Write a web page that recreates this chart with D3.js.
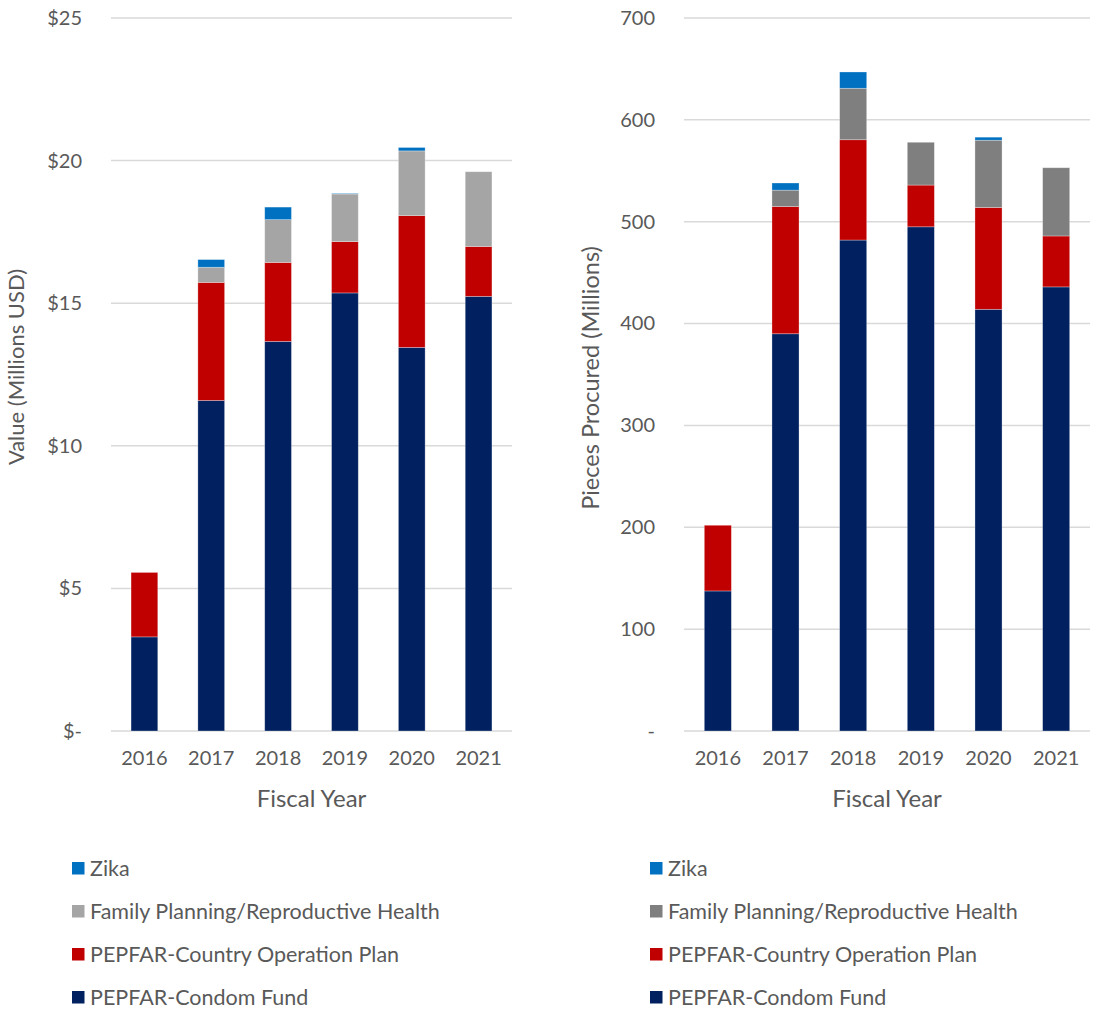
<!DOCTYPE html>
<html>
<head>
<meta charset="utf-8">
<script src="https://cdn.jsdelivr.net/npm/d3@7"></script>
<style>
  body { margin: 0; background: #fff; }
  svg text { font-family: Lato, "Open Sans", sans-serif; fill: #595959; }
</style>
</head>
<body>
<div id="chart"></div>
<script>
// categories
const years = ["2016", "2017", "2018", "2019", "2020", "2021"];
const seriesNames = ["PEPFAR-Condom Fund", "PEPFAR-Country Operation Plan",
  "Family Planning/Reproductive Health", "Zika"];

// left chart: value (millions USD)
const valueCondomFund = [3.30, 11.59, 13.66, 15.36, 13.45, 15.24];
const valueCOP        = [2.26, 4.14, 2.77, 1.80, 4.62, 1.75];
const valueFPRH       = [0, 0.53, 1.50, 1.67, 2.27, 2.62];
const valueZika       = [0, 0.27, 0.44, 0.02, 0.12, 0];
const valueTicks = [0, 5, 10, 15, 20, 25];

// right chart: pieces procured (millions)
const piecesCondomFund = [137.5, 390, 482, 495, 414, 436];
const piecesCOP        = [64.5, 125, 98.5, 41, 100, 50];
const piecesFPRH       = [0, 16, 50.5, 42, 66, 67];
const piecesZika       = [0, 7, 16, 0, 3, 0];
const piecesTicks = [0, 100, 200, 300, 400, 500, 600, 700];

const width = 1094, height = 1011;
const svg = d3.select("#chart").append("svg")
    .attr("width", width)
    .attr("height", height);

function buildRows(series) {
  return years.map((y, i) => {
    let row = { year: y };
    seriesNames.forEach((s, j) => row[s] = series[j][i]);
    return row;
  });
}

function drawChart(opts) {
  let g = svg.append("g");
  let rows = buildRows(opts.series);

  let x = d3.scaleBand()
      .domain(years)
      .range([opts.left, opts.right])
      .paddingInner(0.6)
      .paddingOuter(0.3);

  let y = d3.scaleLinear()
      .domain([0, opts.max])
      .range([731, 18]);

  // gridlines
  g.selectAll("line.grid").data(opts.ticks).enter()
      .append("line")
      .attr("class", "grid")
      .attr("x1", opts.left)
      .attr("x2", opts.right)
      .attr("y1", d => y(d))
      .attr("y2", d => y(d))
      .attr("stroke", "#d9d9d9")
      .attr("stroke-width", 1.5);

  // y axis labels
  let yAxis = g.append("g")
      .attr("transform", `translate(${opts.left}, 0)`)
      .call(d3.axisLeft(y).tickValues(opts.ticks).tickSize(0).tickPadding(29)
        .tickFormat(opts.format));
  yAxis.select(".domain").remove();
  yAxis.selectAll("text").style("font-size", "20px").attr("fill", "#595959");

  // x axis labels
  let xAxis = g.append("g")
      .attr("transform", `translate(0, 731)`)
      .call(d3.axisBottom(x).tickSize(0).tickPadding(20));
  xAxis.select(".domain").remove();
  xAxis.selectAll("text").style("font-size", "20px").attr("fill", "#595959");

  // stacked bars
  let stacked = d3.stack().keys(seriesNames)(rows);
  let color = d3.scaleOrdinal().domain(seriesNames).range(opts.colors);

  g.selectAll("g.layer").data(stacked).enter()
      .append("g")
      .attr("class", "layer")
      .attr("fill", d => color(d.key))
      .selectAll("rect")
      .data(d => d)
      .enter()
      .filter(d => d[1] - d[0] > 0)
      .append("rect")
      .attr("x", d => x(d.data.year))
      .attr("y", d => y(d[1]))
      .attr("width", x.bandwidth())
      .attr("height", d => y(d[0]) - y(d[1]))
      .attr("stroke", "#ffffff")
      .attr("stroke-opacity", 0.4)
      .attr("stroke-width", 0.75);

  // axis titles
  g.append("text")
      .attr("x", (opts.left + opts.right) / 2)
      .attr("y", 807)
      .attr("text-anchor", "middle")
      .style("font-size", "24px")
      .text("Fiscal Year");

  g.append("text")
      .attr("transform", `translate(${opts.titleX}, ${opts.titleY}) rotate(-90)`)
      .attr("text-anchor", "middle")
      .style("font-size", opts.titleSize)
      .text(opts.yTitle);

  // legend (top to bottom: reverse of stack order)
  let legendItems = seriesNames.slice().reverse();
  let legend = g.selectAll("g.legend").data(legendItems).enter()
      .append("g")
      .attr("class", "legend")
      .attr("transform", (d, i) => `translate(${opts.legendX}, ${868 + i * 43})`);
  legend.append("rect")
      .attr("x", 0)
      .attr("y", -6)
      .attr("width", 12.5)
      .attr("height", 12.5)
      .attr("fill", d => color(d));
  legend.append("text")
      .attr("x", 18)
      .attr("y", 0)
      .attr("dy", "0.35em")
      .style("font-size", "21.5px")
      .text(d => d);
}

drawChart({
  series: [valueCondomFund, valueCOP, valueFPRH, valueZika],
  colors: ["#002060", "#c00000", "#a5a5a5", "#0070c0"],
  left: 111, right: 512, max: 25, ticks: valueTicks,
  format: d => d === 0 ? "$-" : "$" + d,
  yTitle: "Value (Millions USD)", titleX: 24, titleY: 367, titleSize: "22px",
  legendX: 72
});

drawChart({
  series: [piecesCondomFund, piecesCOP, piecesFPRH, piecesZika],
  colors: ["#002060", "#c00000", "#7f7f7f", "#0070c0"],
  left: 684, right: 1090, max: 700, ticks: piecesTicks,
  format: d => d === 0 ? "-" : d,
  yTitle: "Pieces Procured (Millions)", titleX: 599, titleY: 378, titleSize: "23.5px",
  legendX: 650
});
</script>
</body>
</html>
